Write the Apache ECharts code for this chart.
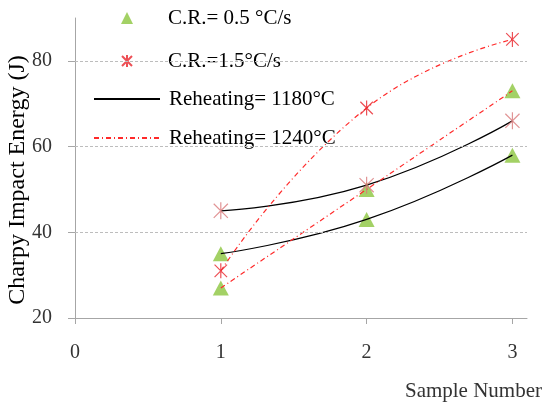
<!DOCTYPE html>
<html>
<head>
	<meta charset="utf-8"/>
	<title>Charpy Impact Energy</title>
	<script src="https://cdn.jsdelivr.net/npm/echarts@6/dist/echarts.min.js"></script>
	<style>
		html, body { margin: 0; padding: 0; background: #fff; }
		#chart { width: 544px; height: 407px; }
	</style>
</head>
<body>
<div id="chart"></div>
<script>
    // data
    var samples = [1, 2, 3];
    var cr05_1180 = [35, 43, 58];
    var cr05_1240 = [27, 50, 73];
    var cr15_1180 = [45, 51, 66];
    var cr15_1240 = [31, 69, 85];
    var yTicks = [20, 40, 60, 80];
    var xTicks = [0, 1, 2, 3];
    var gridValues = [40, 60, 80];

    function pairs(ys) {
        return samples.map(function (x, i) { return [x, ys[i]]; });
    }

    var starPath = 'path://M0,0L20,20M20,0L0,20M10,-2L10,22';
    var serif = '"Liberation Serif", "Times New Roman", serif';
    var legendText = { fontFamily: serif, fontSize: 21, lineHeight: 22, color: '#000' };

    var dom = document.getElementById('chart');
    var myChart = echarts.init(dom);
    var option = {
        animation: false,
        grid: { left: 75, right: 17, top: 18, bottom: 89 },
        legend: [
            {
                // markers
                orient: 'vertical',
                left: 121,
                top: 7,
                padding: 0,
                itemWidth: 12,
                itemHeight: 12,
                itemGap: 21,
                textStyle: Object.assign({ padding: [0, 0, 0, 30] }, legendText),
                data: ['C.R.= 0.5 °C/s', 'C.R.=1.5°C/s']
            },
            {
                // lines
                orient: 'vertical',
                left: 93,
                top: 88,
                padding: 0,
                itemWidth: 66,
                itemHeight: 12,
                itemGap: 17,
                textStyle: Object.assign({ padding: [0, 0, 0, 4] }, legendText),
                data: [
                    { name: 'Reheating= 1180°C', itemStyle: { opacity: 0 } },
                    { name: 'Reheating= 1240°C', itemStyle: { opacity: 0 } }
                ]
            }
        ],
        xAxis: {
            type: 'value',
            min: 0,
            max: 3.1,
            interval: 1,
            axisLine: { lineStyle: { color: '#a6a6a6', width: 1 } },
            axisTick: { show: true, length: 6, customValues: xTicks, lineStyle: { color: '#a6a6a6' } },
            axisLabel: { customValues: xTicks, margin: 25, fontFamily: serif, fontSize: 20, color: '#333' },
            splitLine: { show: false }
        },
        yAxis: {
            type: 'value',
            min: 20,
            max: 90,
            interval: 20,
            axisLine: { show: true, lineStyle: { color: '#a6a6a6', width: 1 } },
            axisTick: { show: true, length: 7, customValues: yTicks, lineStyle: { color: '#a6a6a6' } },
            axisLabel: { customValues: yTicks, margin: 23, fontFamily: serif, fontSize: 20, color: '#333' },
            splitLine: { show: false }
        },
        graphic: [
            {
                type: 'text',
                x: 18, y: 180,
                rotation: Math.PI / 2,
                style: {
                    text: 'Charpy Impact Energy (J)',
                    font: '24px ' + serif,
                    fill: '#000',
                    align: 'center',
                    verticalAlign: 'middle'
                }
            },
            {
                type: 'text',
                right: 2, top: 381,
                style: {
                    text: 'Sample Number',
                    font: '21px ' + serif,
                    fill: '#333'
                }
            }
        ],
        series: [
            {
                name: 'Reheating= 1180°C',
                type: 'line',
                smooth: true,
                symbol: 'none',
                lineStyle: { color: '#000', width: 1.2 },
                itemStyle: { color: '#000' },
                data: pairs(cr05_1180),
                z: 2,
                markLine: {
                    silent: true,
                    symbol: 'none',
                    label: { show: false },
                    lineStyle: { color: '#bdbdbd', type: [3, 2], width: 1 },
                    data: gridValues.map(function (v) { return { yAxis: v }; })
                }
            },
            {
                name: 'Reheating= 1180°C',
                type: 'line',
                smooth: true,
                symbol: 'none',
                lineStyle: { color: '#000', width: 1.2 },
                itemStyle: { color: '#000' },
                data: pairs(cr15_1180),
                z: 2
            },
            {
                name: 'Reheating= 1240°C',
                type: 'line',
                smooth: true,
                symbol: 'none',
                lineStyle: { color: '#ff2a2a', width: 1.2, type: [5, 3, 1, 3] },
                itemStyle: { color: '#ff2a2a' },
                data: pairs(cr05_1240),
                z: 2
            },
            {
                name: 'Reheating= 1240°C',
                type: 'line',
                smooth: true,
                symbol: 'none',
                lineStyle: { color: '#ff2a2a', width: 1.2, type: [5, 3, 1, 3] },
                itemStyle: { color: '#ff2a2a' },
                data: pairs(cr15_1240),
                z: 2
            },
            {
                name: 'C.R.= 0.5 °C/s',
                type: 'scatter',
                symbol: 'triangle',
                symbolSize: [16, 15],
                itemStyle: { color: '#8cc63f' },
                data: pairs(cr05_1180).concat(pairs(cr05_1240)),
                z: 1
            },
            {
                name: 'C.R.=1.5°C/s',
                type: 'scatter',
                symbol: starPath,
                symbolSize: 15,
                symbolKeepAspect: true,
                itemStyle: { color: 'rgba(0,0,0,0)', borderColor: '#e8232a', borderWidth: 1.2 },
                data: pairs(cr15_1240),
                z: 3
            },
            {
                name: 'C.R.=1.5°C/s',
                type: 'scatter',
                symbol: starPath,
                symbolSize: 17,
                symbolKeepAspect: true,
                itemStyle: { color: 'rgba(0,0,0,0)', borderColor: '#d9797b', borderWidth: 1.2 },
                data: pairs(cr15_1180),
                z: 3
            }
        ]
    };
    myChart.setOption(option);
</script>
</body>
</html>
